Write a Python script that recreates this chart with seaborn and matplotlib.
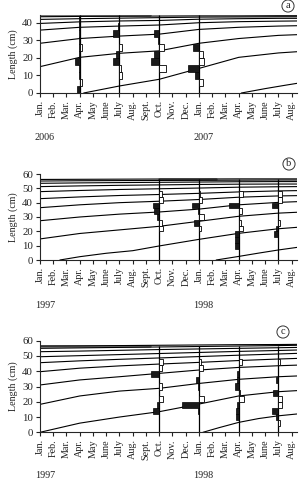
import matplotlib
matplotlib.use("Agg")
import matplotlib.pyplot as plt
import seaborn as sns
import pandas as pd

# ── data ─────────────────────────────────────────────────────
MONTHS = ["Jan.", "Feb.", "Mar.", "Apr.", "May", "June", "July", "Aug.",
          "Sept.", "Oct.", "Nov.", "Dec.", "Jan.", "Feb.", "Mar.", "Apr.",
          "May", "June", "July", "Aug."]
GRID = [0, 3, 6, 9, 12, 15, 18, 19.4]   # months where curves were read

# panel a (2006-2007)
a_years = ["2006", "2007"]
a_curves = [
    [15.0, 20.3, 22.6, 24.0, 28.3, 31.0, 32.8, 33.2],
    [28.3, 31.0, 32.4, 33.5, 36.2, 37.4, 38.1, 38.3],
    [35.8, 37.4, 38.1, 38.7, 40.0, 40.6, 40.9, 41.0],
    [39.6, 40.5, 41.0, 41.3, 42.0, 42.3, 42.5, 42.5],
    [41.9, 42.3, 42.6, 42.9, 43.2, 43.3, 43.4, 43.4],
    [43.4, 43.6, 43.7, 43.8, 43.9, 43.9, 44.0, 44.0],
]
a_new1_x = [3.3, 6, 9, 12, 15, 18, 19.4]
a_new1_y = [0, 4.0, 7.8, 14.0, 20.3, 22.8, 23.5]
a_new2_x = [15.2, 17, 18.5, 19.4]
a_new2_y = [0, 2.5, 4.4, 5.5]
a_top_x = [0, 8.3]
a_top_y = [44.2, 44.2]
a_samples = [3, 6, 9, 12]
a_bins = [0, 4, 8, 12, 16, 20, 24, 28, 32, 36, 40]
a_black = [
    [0.2, 0, 0.05, 0.08, 0.38, 0.05, 0.05, 0.08, 0.08, 0.08, 0.05],
    [0, 0, 0, 0, 0.5, 0.3, 0, 0.05, 0.5, 0.1, 0.05],
    [0, 0, 0, 0, 0.65, 0.4, 0, 0.08, 0.43, 0.05, 0],
    [0, 0, 0.3, 0.8, 0, 0, 0.43, 0, 0, 0, 0],
]
a_white = [
    [0, 0.15, 0, 0, 0, 0, 0.18, 0, 0, 0, 0],
    [0, 0, 0.2, 0.15, 0, 0, 0.2, 0, 0, 0, 0],
    [0, 0, 0, 0.5, 0, 0, 0.33, 0, 0, 0, 0],
    [0, 0.33, 0, 0, 0.38, 0.33, 0, 0, 0, 0, 0],
]

# panel b (1997-1998)
b_years = ["1997", "1998"]
b_curves = [
    [14.7, 18.5, 21.0, 23.5, 27.0, 30.5, 32.7, 33.3],
    [27.4, 30.0, 32.0, 33.5, 35.5, 38.5, 40.2, 40.7],
    [36.5, 38.5, 40.0, 41.0, 42.2, 43.8, 44.7, 44.9],
    [42.8, 44.0, 45.0, 45.7, 46.5, 47.5, 48.2, 48.4],
    [47.7, 48.5, 49.2, 49.7, 50.2, 50.8, 51.1, 51.2],
    [51.2, 51.7, 52.1, 52.4, 52.7, 52.9, 53.0, 53.0],
    [53.5, 53.8, 54.0, 54.2, 54.4, 54.6, 54.7, 54.7],
    [55.1, 55.3, 55.4, 55.5, 55.6, 55.7, 55.8, 55.8],
    [56.2, 56.3, 56.4, 56.5, 56.5, 56.6, 56.6, 56.6],
]
b_new1_x = [1.5, 3, 5, 7, 9, 12, 15, 18, 19.4]
b_new1_y = [0, 2.3, 4.7, 6.5, 9.8, 14.4, 18.6, 21.8, 22.8]
b_new2_x = [13.3, 15, 16.5, 18, 19.4]
b_new2_y = [0, 2.5, 4.8, 7.0, 8.8]
b_top_x = [9, 13.3]
b_top_y = [56.3, 56.3]
b_samples = [9, 12, 15, 18]
bc_bins = [0, 4, 8, 12, 16, 20, 24, 28, 32, 36, 40, 44]
b_black = [
    [0, 0, 0, 0, 0, 0, 0, 0.15, 0.4, 0.45, 0, 0],
    [0, 0, 0, 0, 0, 0, 0.4, 0, 0.08, 0.5, 0, 0],
    [0, 0, 0.25, 0.3, 0.3, 0, 0, 0, 0, 0.75, 0, 0],
    [0, 0, 0, 0, 0.3, 0.2, 0, 0, 0, 0.45, 0, 0],
]
b_white = [
    [0, 0, 0, 0, 0, 0.3, 0.2, 0, 0, 0, 0.25, 0.2],
    [0, 0, 0, 0, 0, 0.12, 0, 0.35, 0, 0, 0.2, 0.1],
    [0, 0, 0, 0, 0, 0.3, 0.2, 0, 0.25, 0, 0, 0.3],
    [0, 0, 0, 0, 0, 0, 0.15, 0, 0, 0, 0.3, 0.3],
]

# panel c (1997-1998)
c_years = ["1997", "1998"]
c_curves = [
    [0.0, 6.0, 10.0, 13.5, 18.5, 23.8, 26.6, 27.3],
    [18.3, 23.8, 27.0, 28.8, 32.0, 34.7, 36.4, 36.9],
    [31.0, 34.3, 36.4, 38.6, 40.8, 42.5, 43.6, 44.0],
    [39.7, 42.0, 43.5, 44.7, 45.8, 47.0, 48.0, 48.4],
    [45.6, 46.8, 47.8, 48.7, 49.6, 50.5, 51.3, 51.7],
    [49.5, 50.2, 50.9, 51.6, 52.3, 53.0, 53.6, 53.9],
    [52.8, 53.2, 53.7, 54.2, 54.6, 55.0, 55.4, 55.6],
    [55.0, 55.3, 55.6, 55.9, 56.2, 56.5, 56.8, 57.0],
    [56.5, 56.6, 56.8, 57.0, 57.2, 57.4, 57.5, 57.6],
]
c_new1_x = [12.3, 13.5, 15, 16.5, 18, 19.4]
c_new1_y = [0, 3.0, 6.5, 9.0, 10.8, 12.0]
c_new2_x = []
c_new2_y = []
c_top_x = [0, 8.3]
c_top_y = [56.6, 56.6]
c_samples = [9, 12, 15, 18]
c_black = [
    [0, 0, 0, 0.5, 0.2, 0, 0, 0, 0, 0.65, 0, 0],
    [0, 0, 0, 0.08, 1.3, 0, 0, 0.1, 0.25, 0, 0, 0],
    [0, 0, 0.2, 0.2, 0.1, 0, 0, 0.3, 0.15, 0.15, 0, 0],
    [0, 0, 0.2, 0.45, 0, 0, 0.4, 0, 0.15, 0, 0, 0],
]
c_white = [
    [0, 0, 0, 0, 0, 0.3, 0, 0.2, 0, 0, 0.2, 0.3],
    [0, 0, 0, 0, 0, 0.35, 0, 0, 0, 0, 0.3, 0.15],
    [0, 0, 0, 0, 0, 0.4, 0.1, 0, 0, 0, 0, 0.25],
    [0, 0.15, 0, 0, 0.25, 0.25, 0, 0, 0, 0, 0, 0.12],
]

# ── style ────────────────────────────────────────────────────
sns.set_style("ticks")
plt.rcParams["font.family"] = ["Liberation Serif", "DejaVu Serif"]
plt.rcParams["text.color"] = "#222222"
plt.rcParams["xtick.color"] = "#222222"
plt.rcParams["ytick.color"] = "#222222"
plt.rcParams["axes.labelcolor"] = "#222222"

W, H = 299, 483
fig = plt.figure(figsize=(W / 100, H / 100), dpi=100)


def curve_frame(curves, extras):
    rows = []
    for i, ys in enumerate(curves):
        for x, y in zip(GRID, ys):
            rows.append((f"c{i}", x, y))
    for j, (xs, ys) in enumerate(extras):
        for x, y in zip(xs, ys):
            rows.append((f"n{j}", x, y))
    return pd.DataFrame(rows, columns=["cohort", "month", "length"])


def draw_panel(ax, ymax, yticks, curves, extras, top, samples, bins,
               black, white, years, letter, letter_xy, year_off):
    df = curve_frame(curves, extras)
    sns.lineplot(data=df, x="month", y="length", units="cohort",
                 estimator=None, sort=False, color="black", lw=0.8,
                 legend=False, ax=ax)
    ax.plot(top[0], top[1], color="#777777", lw=1.8, zorder=1)
    line_top = max(top[1])
    for s, bl, wh in zip(samples, black, white):
        ax.vlines(s, 0, line_top, color="black", lw=0.9, zorder=2)
        for lo, w in zip(bins, bl):
            if w > 0:
                ax.barh(lo, -w, height=4, left=s, align="edge",
                        color="#1a1a1a", edgecolor="black", lw=0.5, zorder=3)
        for lo, w in zip(bins, wh):
            if w > 0:
                ax.barh(lo, w, height=4, left=s, align="edge",
                        color="white", edgecolor="black", lw=0.6, zorder=3)
    ax.set_xlim(0, 19.4)
    ax.set_ylim(0, ymax)
    ax.set_yticks(yticks)
    ax.set_xticks(range(len(MONTHS)))
    ax.set_xticklabels(MONTHS, rotation=90, fontsize=7.3)
    ax.tick_params(axis="y", labelsize=7.8, length=3, width=0.8, pad=2)
    ax.tick_params(axis="x", length=3, width=0.8, pad=2)
    ax.set_xlabel("")
    ax.set_ylabel("Length (cm)", fontsize=7.2, labelpad=3)
    sns.despine(ax=ax)
    for sp in ("left", "bottom"):
        ax.spines[sp].set_linewidth(0.8)
    for x, yr in zip([-0.4, 11.55], years):
        ax.annotate(yr, xy=(x, 0), xycoords=("data", "axes fraction"),
                    xytext=(0, -year_off), textcoords="offset pixels",
                    ha="left", va="center", fontsize=7.3,
                    annotation_clip=False)
    fig.text(letter_xy[0] / W, 1 - letter_xy[1] / H, letter, ha="center",
             va="center", fontsize=7.5,
             bbox=dict(boxstyle="circle,pad=0.15", fc="white",
                       ec="#333333", lw=0.7))


ax_a = fig.add_axes([40 / W, 1 - 93 / H, 257 / W, 78 / H])
draw_panel(ax_a, 44.4, [0, 10, 20, 30, 40], a_curves,
           [(a_new1_x, a_new1_y), (a_new2_x, a_new2_y)], (a_top_x, a_top_y),
           a_samples, a_bins, a_black, a_white, a_years, "a", (288, 6), 44)

ax_b = fig.add_axes([40 / W, 1 - 260 / H, 257 / W, 86 / H])
draw_panel(ax_b, 60, [0, 10, 20, 30, 40, 50, 60], b_curves,
           [(b_new1_x, b_new1_y), (b_new2_x, b_new2_y)], (b_top_x, b_top_y),
           b_samples, bc_bins, b_black, b_white, b_years, "b", (289, 164), 45)

ax_c = fig.add_axes([40 / W, 1 - 432.3 / H, 257 / W, 91.6 / H])
draw_panel(ax_c, 60, [0, 10, 20, 30, 40, 50, 60], c_curves,
           [(c_new1_x, c_new1_y), (c_new2_x, c_new2_y)], (c_top_x, c_top_y),
           c_samples, bc_bins, c_black, c_white, c_years, "c", (283, 332), 43)

fig.savefig("out.png", dpi=100)
